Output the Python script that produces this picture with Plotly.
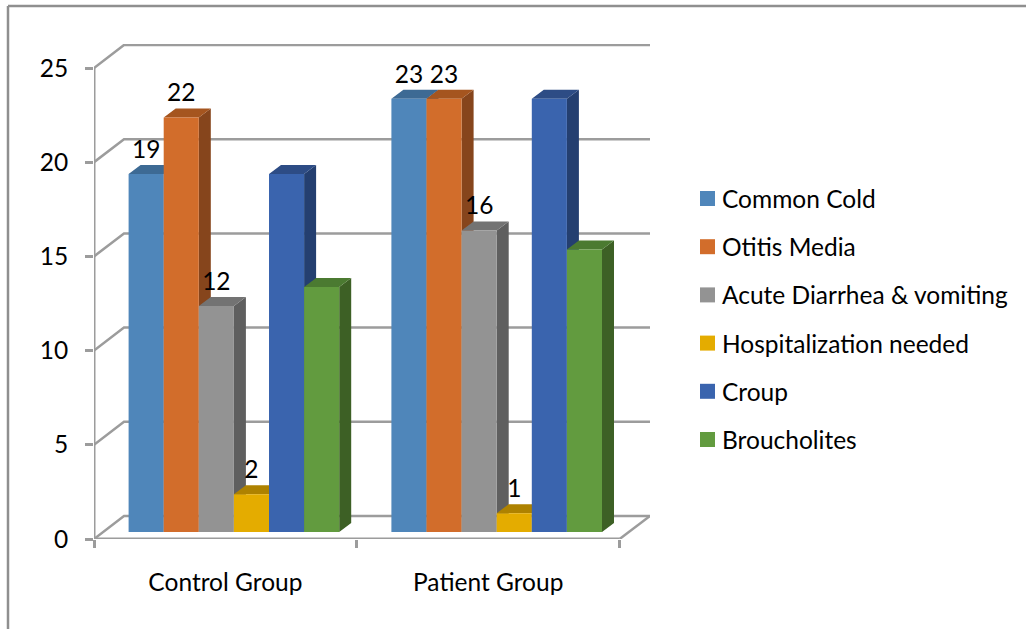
import plotly.graph_objects as go

# Chart data
groups = ["Control Group", "Patient Group"]
series_names = ["Common Cold", "Otitis Media", "Acute Diarrhea & vomiting",
                "Hospitalization needed", "Croup", "Broucholites"]
common_cold = [19, 23]
otitis_media = [22, 23]
acute_diarrhea = [12, 16]
hospitalization = [2, 1]
croup = [19, 23]
broucholites = [13, 15]
y_ticks = [0, 5, 10, 15, 20, 25]

series_values = [common_cold, otitis_media, acute_diarrhea,
                 hospitalization, croup, broucholites]
has_label = [True, True, True, True, False, False]

# Face colours per series: front, side, top
front_colors = ["#4F86BA", "#D26D2B", "#939393", "#E4AC00", "#3A64AE", "#629B3F"]
side_colors = ["#30557A", "#86451C", "#5F5F5F", "#8F6C00", "#243F70", "#3D6025"]
top_colors = ["#3D6A94", "#A5551F", "#737373", "#AE8200", "#2D4C85", "#4B7A31"]

# Page and plot area, in pixels
WIDTH, HEIGHT = 1026, 629
M_LEFT, M_RIGHT, M_TOP, M_BOTTOM = 94, 376, 44, 90
PX_PER_GROUP = 262.8
PX_PER_UNIT = 18.84
plot_w = WIDTH - M_LEFT - M_RIGHT
plot_h = HEIGHT - M_TOP - M_BOTTOM
x_range = [-0.5, -0.5 + plot_w / PX_PER_GROUP]
y_range = [0, plot_h / PX_PER_UNIT]

# Depth of the pseudo-3D box and of the bars, converted to axis units
wall_dx = 30 / PX_PER_GROUP
wall_dy = 23 / PX_PER_UNIT
bar_dx = 12 / PX_PER_GROUP
bar_dy = 9 / PX_PER_UNIT
bar_w = 35.1 / PX_PER_GROUP
bar_shift = 8.5 / PX_PER_GROUP
bar_base = 7 / PX_PER_UNIT
label_gap = 10 / PX_PER_UNIT

GRID = "#9C9C9C"
FRAME = "#8F8F8F"
FONT = "Lato"
FONT_SIZE = 24.5


def paper_x(px):
    return (px - M_LEFT) / plot_w


def paper_y(px):
    return (HEIGHT - M_BOTTOM - px) / plot_h


fig = go.Figure()

# Back wall and floor outline: one step up the left side, then across
wall_x, wall_y = [], []
for t in y_ticks:
    wall_x += [x_range[0], x_range[0] + wall_dx, x_range[1], None]
    wall_y += [t, t + wall_dy, t + wall_dy, None]
wall_x += [1.5, x_range[1]]
wall_y += [0, wall_dy]
fig.add_trace(go.Scatter(x=wall_x, y=wall_y, mode="lines", cliponaxis=False,
                         line=dict(color=GRID, width=2.5), hoverinfo="skip",
                         showlegend=False))

# Axis lines
fig.add_trace(go.Scatter(x=[-0.5, -0.5, None, -0.5, 1.5],
                         y=[y_ticks[0], y_ticks[-1], None, 0, 0],
                         mode="lines", cliponaxis=False,
                         line=dict(color=GRID, width=3), hoverinfo="skip",
                         showlegend=False))


def left_edge(group_index, series_index):
    return group_index + bar_shift + (series_index - 3) * bar_w


# Side and top faces sit behind every front face, left to right
for i, values in enumerate(series_values):
    side_x, side_y, top_x, top_y = [], [], [], []
    for g, v in enumerate(values):
        l = left_edge(g, i)
        r = l + bar_w
        b = bar_base
        t = bar_base + v
        side_x += [r, r, r + bar_dx, r + bar_dx, r, None]
        side_y += [b, t, t + bar_dy, b + bar_dy, b, None]
        top_x += [l, r, r + bar_dx, l + bar_dx, l, None]
        top_y += [t, t, t + bar_dy, t + bar_dy, t, None]
    for fx, fy, col in ((side_x, side_y, side_colors[i]), (top_x, top_y, top_colors[i])):
        fig.add_trace(go.Scatter(x=fx, y=fy, mode="lines", fill="toself",
                                 fillcolor=col, line=dict(width=0, color=col),
                                 hoverinfo="skip", showlegend=False))

# Front faces go on an overlaying subplot so they cover the depth faces
for i, values in enumerate(series_values):
    fig.add_trace(go.Bar(x=[0, 1], y=values, base=bar_base, width=bar_w,
                         offset=bar_shift + (i - 3) * bar_w,
                         marker=dict(color=front_colors[i], line=dict(width=0)),
                         name=series_names[i], showlegend=False,
                         xaxis="x2", yaxis="y2"))

# Value labels above the first four series
for i, values in enumerate(series_values):
    if has_label[i]:
        fig.add_trace(go.Scatter(
            x=[left_edge(g, i) + bar_w / 2 for g in range(len(values))],
            y=[bar_base + v + label_gap for v in values],
            text=[str(v) for v in values], mode="text",
            textposition="top center",
            textfont=dict(family=FONT, size=FONT_SIZE, color="black"),
            hoverinfo="skip", showlegend=False, xaxis="x2", yaxis="y2"))

# Outer frame (top and left edges only) and legend swatches
shapes = [
    dict(type="line", xref="paper", yref="paper", x0=paper_x(8), x1=paper_x(WIDTH),
         y0=paper_y(6), y1=paper_y(6), line=dict(color=FRAME, width=2.5)),
    dict(type="line", xref="paper", yref="paper", x0=paper_x(8), x1=paper_x(8),
         y0=paper_y(6), y1=paper_y(HEIGHT), line=dict(color=FRAME, width=2.5)),
]
annotations = []
LEGEND_SWATCH_X, LEGEND_TEXT_X, LEGEND_TOP, LEGEND_STEP, SWATCH = 700, 722, 198.5, 48.2, 15
for i, name in enumerate(series_names):
    cy = LEGEND_TOP + i * LEGEND_STEP
    shapes.append(dict(type="rect", xref="paper", yref="paper", layer="above",
                       x0=paper_x(LEGEND_SWATCH_X), x1=paper_x(LEGEND_SWATCH_X + SWATCH),
                       y0=paper_y(cy - SWATCH / 2), y1=paper_y(cy + SWATCH / 2),
                       fillcolor=front_colors[i], line=dict(width=0)))
    annotations.append(dict(text=name, xref="paper", yref="paper", showarrow=False,
                            x=paper_x(LEGEND_TEXT_X), y=paper_y(cy), xanchor="left",
                            yanchor="middle", align="left", xshift=-2,
                            font=dict(family=FONT, size=FONT_SIZE, color="black")))

fig.update_layout(
    width=WIDTH, height=HEIGHT, autosize=False,
    margin=dict(l=M_LEFT, r=M_RIGHT, t=M_TOP, b=M_BOTTOM, pad=0),
    paper_bgcolor="white", plot_bgcolor="white",
    barmode="overlay", showlegend=False,
    font=dict(family=FONT, size=FONT_SIZE, color="black"),
    shapes=shapes, annotations=annotations,
    xaxis=dict(range=x_range, tickmode="array", tickvals=[0, 1], ticktext=groups,
               ticks="", showgrid=False, zeroline=False, showline=False,
               ticklabelstandoff=26, fixedrange=True,
               minor=dict(tickmode="array", tickvals=[-0.5, 0.5, 1.5], ticks="outside",
                          ticklen=8, tickwidth=2.5, tickcolor=GRID, showgrid=False)),
    yaxis=dict(range=y_range, tickmode="array", tickvals=y_ticks, ticks="outside",
               ticklen=8, tickwidth=2.5, tickcolor=GRID, showgrid=False, zeroline=False,
               showline=False, ticklabelstandoff=12, fixedrange=True),
    xaxis2=dict(range=x_range, overlaying="x", visible=False, fixedrange=True),
    yaxis2=dict(range=y_range, overlaying="y", visible=False, fixedrange=True),
)

fig.write_html("out.html", config={"displayModeBar": False})
